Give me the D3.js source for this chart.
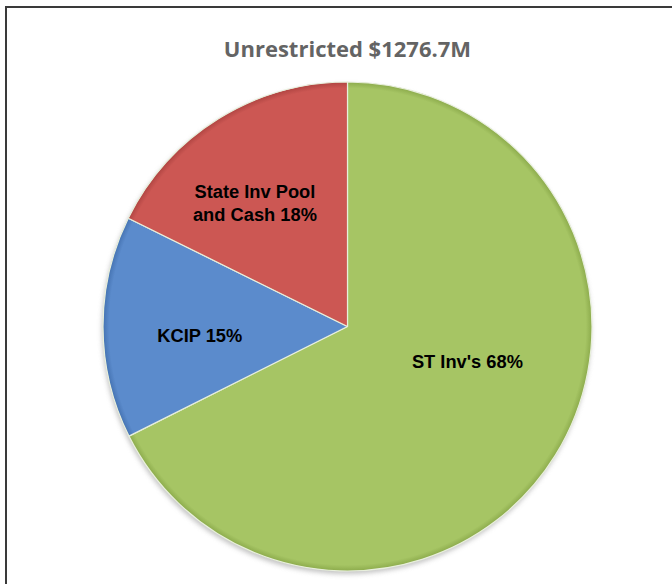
<!DOCTYPE html>
<html>
<head>
<meta charset="utf-8">
<script src="https://cdn.jsdelivr.net/npm/d3@7"></script>
<style>
  html, body { margin: 0; padding: 0; background: #fff; }
  svg { display: block; }
</style>
</head>
<body>
<svg id="chart" width="672" height="584"></svg>
<script>
const title = "Unrestricted $1276.7M";
const categories = ["ST Inv's", "KCIP", "State Inv Pool and Cash"];
const values = [67.6, 14.7, 17.7];
const percentLabels = ["68%", "15%", "18%"];
const labelLines = [["ST Inv's 68%"], ["KCIP 15%"], ["State Inv Pool", "and Cash 18%"]];
const colors = ["#a6c564", "#5b8bcc", "#cc5753"];
const rimColors = ["#8cab4c", "#4573b2", "#b04542"];

const svg = d3.select("#chart");
const cx = 347.5, cy = 326.5, R = 244.5;

// outer frame
svg.append("rect").attr("x", 6).attr("y", 7).attr("width", 700).attr("height", 600)
  .attr("fill", "none").attr("stroke", "#3a3a3a").attr("stroke-width", 2);

svg.append("text").attr("x", cx).attr("y", 57).attr("text-anchor", "middle")
  .attr("font-family", "'Open Sans', 'Liberation Sans', sans-serif")
  .attr("font-weight", 700).attr("font-size", 22).attr("fill", "#646464")
  .text(title);

const defs = svg.append("defs");
colors.forEach((c, i) => {
  const gr = defs.append("radialGradient").attr("id", "grad" + i)
    .attr("gradientUnits", "userSpaceOnUse")
    .attr("cx", 0).attr("cy", 0).attr("r", R);
  gr.append("stop").attr("offset", "0%").attr("stop-color", c);
  gr.append("stop").attr("offset", "97.5%").attr("stop-color", c);
  gr.append("stop").attr("offset", "100%").attr("stop-color", rimColors[i]);
});
const blur = defs.append("filter").attr("id", "shadow").attr("x", "-10%").attr("y", "-10%").attr("width", "120%").attr("height", "120%");
blur.append("feGaussianBlur").attr("stdDeviation", 2.5);

const pie = d3.pie().sort(null).value(d => d)
  .startAngle(0).endAngle(2 * Math.PI);
const arcs = pie(values);
const arc = d3.arc().innerRadius(0).outerRadius(R);

const g = svg.append("g").attr("transform", `translate(${cx},${cy})`);

g.append("circle").attr("cx", -1).attr("cy", 3).attr("r", R)
  .attr("fill", "#9a9a9a").attr("opacity", 0.6).attr("filter", "url(#shadow)");

g.selectAll("path.slice").data(arcs).enter().append("path")
  .attr("class", "slice")
  .attr("d", arc)
  .attr("fill", (d, i) => `url(#grad${i})`)
  .attr("stroke", "#e8efdc").attr("stroke-width", 1.2).attr("stroke-linejoin", "round");

// label placement (radius, angle shift as fraction of slice)
const labelRadius = [125, 148, 154];
const labelAngleShift = [-0.063, -0.06, -0.08];
const labelPos = (d, i) => {
  const mid = (d.startAngle + d.endAngle) / 2 + labelAngleShift[i] * (d.endAngle - d.startAngle);
  return [Math.sin(mid) * labelRadius[i], -Math.cos(mid) * labelRadius[i]];
};

arcs.forEach((d, i) => {
  const [x, y] = labelPos(d, i);
  const lines = labelLines[i];
  const lh = 23;
  const t = g.append("text").attr("text-anchor", "middle")
    .attr("font-family", "'Liberation Sans', Arial, sans-serif")
    .attr("font-weight", 700).attr("font-size", 18.3).attr("fill", "#000");
  lines.forEach((ln, k) => {
    t.append("tspan").attr("x", x)
      .attr("y", y + (k - (lines.length - 1) / 2) * lh + 6.5)
      .text(ln);
  });
});
</script>
</body>
</html>
